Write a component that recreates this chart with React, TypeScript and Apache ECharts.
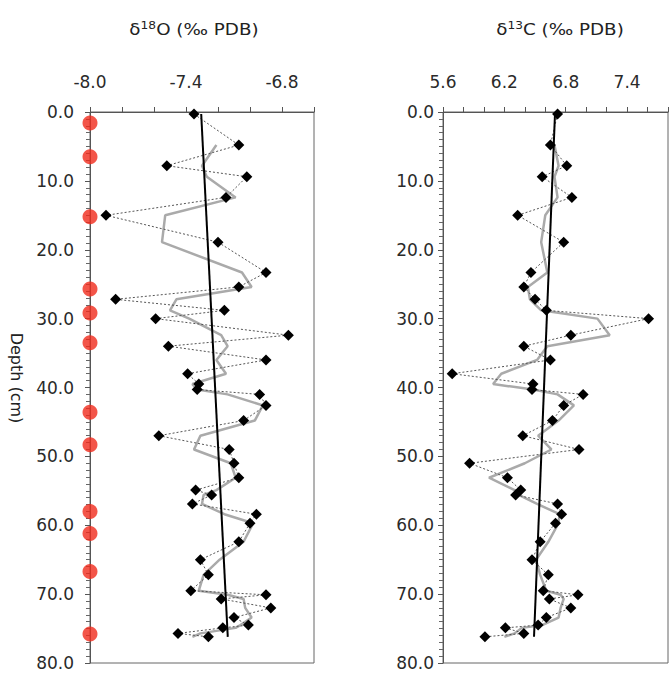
import React, { useEffect, useRef } from "react";
import * as echarts from "echarts";

// Sample depths (cm)
const depth = [
  0.3, 4.8, 7.8, 9.4, 12.4, 15.0, 18.9, 23.3, 25.4, 27.2,
  28.8, 30.0, 32.4, 34.0, 36.0, 38.0, 39.5, 40.3, 41.0, 42.6,
  44.8, 47.0, 49.0, 51.0, 53.1, 54.9, 55.6, 56.9, 58.4, 59.7,
  62.4, 65.0, 67.2, 69.5, 70.1, 70.7, 72.0, 73.4, 74.5, 74.9,
  75.7, 76.2,
];

// δ18O (‰ PDB)
const d18O = [
  -7.35, -7.07, -7.52, -7.02, -7.15, -7.9, -7.2, -6.9, -7.07, -7.84,
  -7.16, -7.59, -6.76, -7.51, -6.9, -7.39, -7.32, -7.33, -6.94, -6.9,
  -7.04, -7.57, -7.13, -7.1, -7.07, -7.34, -7.24, -7.36, -6.96, -7.0,
  -7.07, -7.31, -7.26, -7.37, -6.9, -7.18, -6.87, -7.1, -7.01, -7.17,
  -7.45, -7.26,
];

// δ13C (‰ PDB)
const d13C = [
  6.72, 6.65, 6.81, 6.57, 6.86, 6.33, 6.78, 6.46, 6.39, 6.5,
  6.61, 7.61, 6.85, 6.39, 6.65, 5.69, 6.48, 6.47, 6.97, 6.78,
  6.67, 6.38, 6.93, 5.86, 6.23, 6.36, 6.31, 6.72, 6.76, 6.7,
  6.55, 6.47, 6.63, 6.58, 6.92, 6.64, 6.85, 6.61, 6.53, 6.21,
  6.39, 6.01,
];

// Grey smoothed curves (first sample has none)
const d18OSmooth = [
  null, -7.21, -7.3, -7.27, -7.09, -7.53, -7.55, -7.05, -6.99, -7.46,
  -7.5, -7.38, -7.18, -7.14, -7.21, -7.15, -7.36, -7.33, -7.14, -6.92,
  -6.97, -7.31, -7.35, -7.12, -7.09, -7.21, -7.29, -7.3, -7.16, -6.98,
  -7.04, -7.19, -7.29, -7.32, -7.14, -7.04, -7.03, -6.99, -7.06, -7.09,
  -7.31, -7.36,
];
const d13CSmooth = [
  null, 6.69, 6.73, 6.69, 6.72, 6.6, 6.56, 6.62, 6.43, 6.45,
  6.56, 7.11, 7.23, 6.62, 6.52, 6.17, 6.09, 6.48, 6.72, 6.88,
  6.73, 6.53, 6.66, 6.4, 6.05, 6.3, 6.34, 6.52, 6.74, 6.73,
  6.63, 6.51, 6.55, 6.61, 6.75, 6.78, 6.75, 6.73, 6.57, 6.37,
  6.3, 6.2,
];

// Straight trend lines (end points)
const trendDepth = [0.3, 76.2];
const d18OTrend = [-7.305, -7.139];
const d13CTrend = [6.695, 6.49];

// Red markers along the δ18O axis
const redDotDepth = [1.6, 6.5, 15.2, 25.7, 29.2, 33.5, 43.6, 48.3, 58.0, 61.2, 66.7, 75.8];
const redDotX = -8.0;

// Axis tick labels
const o18TickLabels = ["-8.0", "-7.4", "-6.8"];
const c13TickLabels = ["5.6", "6.2", "6.8", "7.4"];
const depthTickLabels = ["0.0", "10.0", "20.0", "30.0", "40.0", "50.0", "60.0", "70.0", "80.0"];

const FONT = "DejaVu Sans";
const AXIS_COLOR = "#555";
const LABEL_COLOR = "#2a2a2a";

function pairs(xs: (number | null)[], ys: number[]) {
  const out: [number, number][] = [];
  xs.forEach((x, i) => {
    if (x !== null) out.push([x, ys[i]]);
  });
  return out;
}

export default function App() {
  const ref = useRef<HTMLDivElement>(null);

  useEffect(() => {
    if (!ref.current) return;
    const chart = echarts.init(ref.current, undefined, { renderer: "svg" });

    const xAxisBase = (gridIndex: number, min: number, max: number, labels: string[]) => ({
      type: "value",
      gridIndex,
      position: "top",
      min,
      max,
      interval: 0.2,
      axisLine: { show: true, lineStyle: { color: AXIS_COLOR, width: 1 } },
      axisTick: { show: true, length: 5, lineStyle: { color: AXIS_COLOR } },
      splitLine: { show: false },
      axisLabel: {
        margin: 22,
        fontFamily: FONT,
        fontSize: 17,
        color: LABEL_COLOR,
        formatter: (v: number) => {
          const s = v.toFixed(1);
          return labels.includes(s) ? s : "";
        },
      },
    });

    const yAxisBase = (gridIndex: number, margin: number) => ({
      type: "value",
      gridIndex,
      inverse: true,
      min: 0,
      max: 80,
      interval: 10,
      axisLine: { show: true, lineStyle: { color: AXIS_COLOR, width: 1 } },
      axisTick: { show: true, length: 5, lineStyle: { color: AXIS_COLOR } },
      minorTick: { show: true, splitNumber: 10, length: 4, lineStyle: { color: "#666" } },
      splitLine: { show: false },
      axisLabel: {
        margin,
        fontFamily: FONT,
        fontSize: 17,
        color: LABEL_COLOR,
        formatter: (v: number) => {
          const s = v.toFixed(1);
          return depthTickLabels.includes(s) ? s : "";
        },
      },
    });

    const titleText = (iso: string, el: string) => ({
      text: `{a|δ}{s|${iso}}{a|${el} (‰ PDB)}`,
      rich: {
        a: { fontFamily: FONT, fontSize: 15, fill: "#222" },
        s: { fontFamily: FONT, fontSize: 10, fill: "#222", padding: [0, 0, 8, 0] },
      },
      fill: "#222",
      align: "center",
      verticalAlign: "middle",
    });

    chart.setOption({
      animation: false,
      backgroundColor: "#fff",
      grid: [
        { left: 90, top: 112, width: 224, height: 551, show: true, borderColor: "#666", borderWidth: 1 },
        { left: 443, top: 112, width: 248.6, height: 551, show: true, borderColor: "#666", borderWidth: 1 },
      ],
      xAxis: [xAxisBase(0, -8.0, -6.6, o18TickLabels), xAxisBase(1, 5.6, 7.8, c13TickLabels)],
      yAxis: [yAxisBase(0, 16), yAxisBase(1, 9)],
      graphic: [
        { type: "text", x: 194, y: 30, scaleX: 1.22, style: titleText("18", "O") },
        { type: "text", x: 560, y: 30, scaleX: 1.22, style: titleText("13", "C") },
        {
          type: "text",
          x: 16,
          y: 378,
          rotation: -Math.PI / 2,
          style: {
            text: "Depth (cm)",
            fontFamily: FONT,
            fontSize: 16,
            fill: "#222",
            align: "center",
            verticalAlign: "middle",
          },
        },
      ],
      series: [
        {
          type: "line",
          xAxisIndex: 0,
          yAxisIndex: 0,
          data: pairs(d18OSmooth, depth),
          showSymbol: false,
          symbol: "none",
          lineStyle: { color: "#aaa", width: 2.5 },
          z: 2,
        },
        {
          type: "line",
          xAxisIndex: 0,
          yAxisIndex: 0,
          data: pairs(d18O, depth),
          symbol: "diamond",
          symbolSize: 11,
          itemStyle: { color: "#000" },
          lineStyle: { color: "#555", width: 1, type: [2, 2] },
          z: 3,
        },
        {
          type: "line",
          xAxisIndex: 0,
          yAxisIndex: 0,
          data: pairs(d18OTrend, trendDepth),
          symbol: "none",
          lineStyle: { color: "#000", width: 2 },
          z: 4,
        },
        {
          type: "scatter",
          xAxisIndex: 0,
          yAxisIndex: 0,
          data: redDotDepth.map((d) => [redDotX, d]),
          symbol: "circle",
          symbolSize: 15,
          itemStyle: { color: "#f02a1c" },
          clip: false,
          z: 5,
        },
        {
          type: "line",
          xAxisIndex: 1,
          yAxisIndex: 1,
          data: pairs(d13CSmooth, depth),
          showSymbol: false,
          symbol: "none",
          lineStyle: { color: "#aaa", width: 2.5 },
          z: 2,
        },
        {
          type: "line",
          xAxisIndex: 1,
          yAxisIndex: 1,
          data: pairs(d13C, depth),
          symbol: "diamond",
          symbolSize: 11,
          itemStyle: { color: "#000" },
          lineStyle: { color: "#555", width: 1, type: [2, 2] },
          z: 3,
        },
        {
          type: "line",
          xAxisIndex: 1,
          yAxisIndex: 1,
          data: pairs(d13CTrend, trendDepth),
          symbol: "none",
          lineStyle: { color: "#000", width: 2 },
          z: 4,
        },
      ],
    });

    return () => chart.dispose();
  }, []);

  return (
    <div
      ref={ref}
      style={{ position: "fixed", left: 0, top: 0, width: 671, height: 678, background: "#fff" }}
    />
  );
}
